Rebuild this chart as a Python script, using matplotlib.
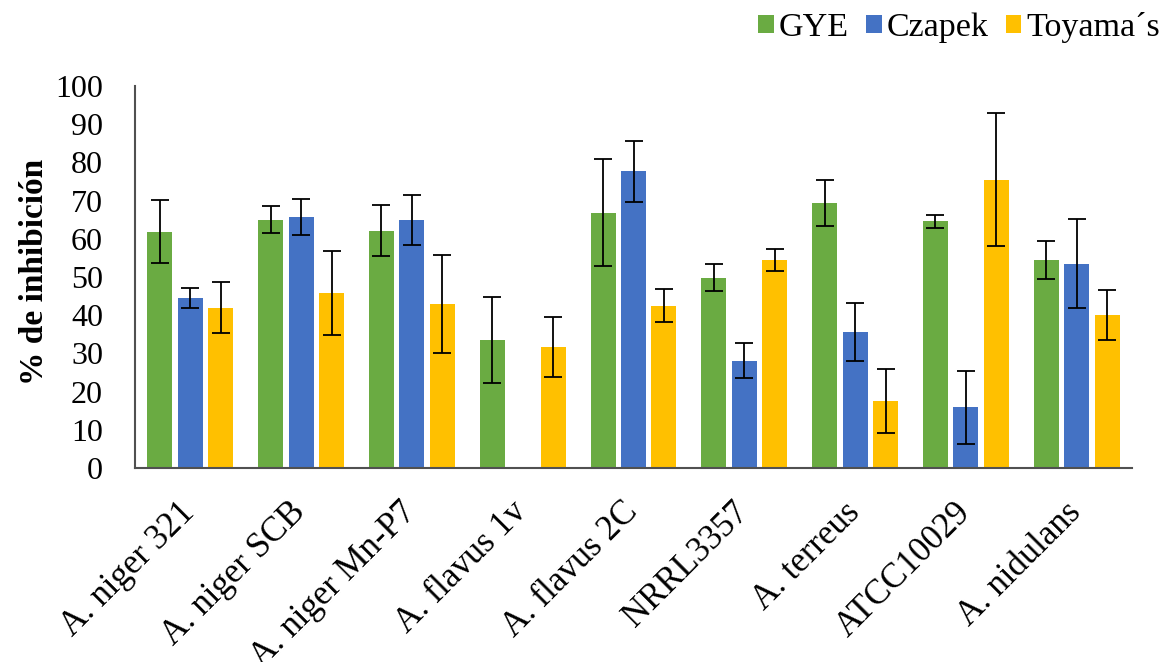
import matplotlib.pyplot as plt
import matplotlib.transforms as mtransforms
import numpy as np

strains = ["A. niger 321", "A. niger SCB", "A. niger Mn-P7", "A. flavus 1v",
           "A. flavus 2C", "NRRL3357", "A. terreus", "ATCC10029", "A. nidulans"]

gye = [61.9, 65.0, 62.1, 33.5, 66.8, 49.8, 69.3, 64.6, 54.5]
gye_err = [8.3, 3.6, 6.7, 11.3, 14.0, 3.6, 6.0, 1.7, 4.9]
czapek = [44.4, 65.7, 65.0, 0.0, 77.7, 28.1, 35.7, 15.9, 53.5]
czapek_err = [2.6, 4.7, 6.5, 0.0, 8.0, 4.5, 7.6, 9.6, 11.6]
toyama = [42.0, 45.8, 42.9, 31.7, 42.5, 54.5, 17.6, 75.5, 40.1]
toyama_err = [6.6, 10.9, 12.9, 7.8, 4.3, 2.9, 8.4, 17.4, 6.5]

series = [
    ("GYE", gye, gye_err, "#6aab42"),
    ("Czapek", czapek, czapek_err, "#4472c4"),
    ("Toyama\u00b4s", toyama, toyama_err, "#ffc000"),
]

plt.rcParams["font.family"] = ["Liberation Serif", "DejaVu Serif"]

fig = plt.figure(figsize=(11.67, 6.62), dpi=100)
ax = fig.add_axes([0.1157, 0.2931, 0.8543, 0.5770])

x = np.arange(len(strains))
width = 0.226
step = 0.275
for i, (name, vals, errs, color) in enumerate(series):
    pos = x + (i - 1) * step
    ax.bar(pos, vals, width=width, color=color, label=name, zorder=2)
    has = np.array(vals) > 0
    ax.errorbar(pos[has], np.array(vals)[has], yerr=np.array(errs)[has],
                fmt="none", ecolor="black", elinewidth=1.3, capsize=6.5,
                capthick=1.3, zorder=3)

ax.set_xlim(-0.5, len(strains) - 0.5)
ax.set_ylim(0, 100)
ax.set_yticks(range(0, 101, 10))
ax.tick_params(axis="y", length=0, labelsize=23, pad=23)
ax.tick_params(axis="x", length=0, labelsize=25, pad=20)
ax.set_xticks(x)
ax.set_xticklabels(strains, rotation=45, ha="right", va="top",
                   rotation_mode="anchor")
shift = mtransforms.ScaledTranslation(-0.12, 0, fig.dpi_scale_trans)
for lbl in ax.get_xticklabels():
    lbl.set_transform(lbl.get_transform() + shift)

for side in ("top", "right"):
    ax.spines[side].set_visible(False)
for side in ("left", "bottom"):
    ax.spines[side].set_color("#505050")
    ax.spines[side].set_linewidth(1.5)

ax.set_ylabel("% de inhibición", fontsize=24, fontweight="bold")
ax.yaxis.set_label_coords(-0.085, 0.514)

ax.legend(loc="upper right", bbox_to_anchor=(1.042, 1.23), ncol=3, frameon=False,
          fontsize=24.5, handlelength=0.46, handleheight=0.44, handletextpad=0.15,
          columnspacing=0.5, borderaxespad=0)

fig.savefig("out.png", dpi=100)
